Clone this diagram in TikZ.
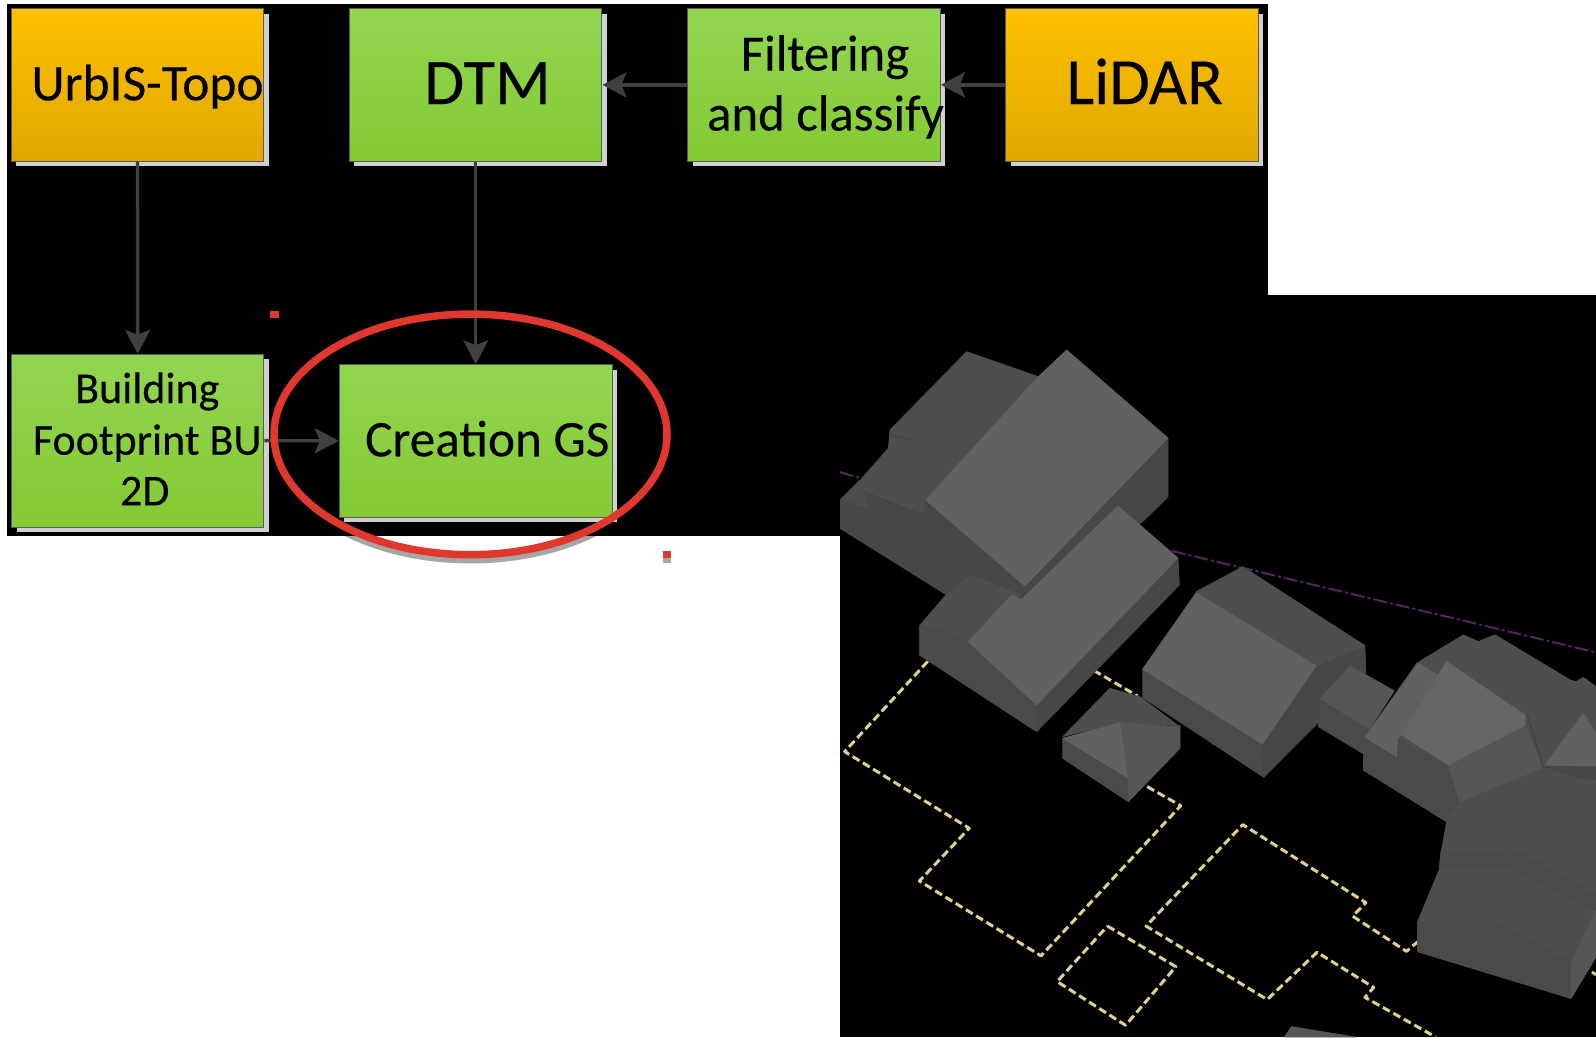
\documentclass[tikz,border=0pt]{standalone}
\usepackage{fontspec}
\setmainfont{Carlito}[FakeBold=0.25]
\usetikzlibrary{arrows.meta,shadows}
\definecolor{shgray}{HTML}{D0D0D0}
\definecolor{ringshadow}{HTML}{A6A6A6}
\definecolor{edgegray}{HTML}{5A5A5A}
\definecolor{arrowgray}{HTML}{404040}
\definecolor{ringred}{HTML}{E0382F}
\definecolor{roofL}{HTML}{616161}
\definecolor{roofLL}{HTML}{666666}
\definecolor{roofD}{HTML}{4E4E4E}
\definecolor{roofM}{HTML}{565656}
\definecolor{wallA}{HTML}{4A4A4A}
\definecolor{wallB}{HTML}{474747}
\definecolor{seam}{HTML}{424242}
\definecolor{dashyellow}{HTML}{E0D090}
\definecolor{dashpurple}{HTML}{532560}
\definecolor{orangetop}{HTML}{FFC000}
\definecolor{orangebot}{HTML}{E0A800}
\definecolor{greentop}{HTML}{92D550}
\definecolor{greenbot}{HTML}{84CA34}
\tikzset{
  x=1pt,y=-1pt,
  boxbase/.style={rectangle,inner sep=0pt,draw=edgegray,line width=1pt,
    drop shadow={shadow xshift=5pt,shadow yshift=-5pt,fill=shgray,opacity=1}},
  orangebox/.style={boxbase,top color=orangetop,bottom color=orangebot},
  greenbox/.style={boxbase,top color=greentop,bottom color=greenbot},
  flow/.style={draw=arrowgray,line width=3.4pt,-{Stealth[length=24pt,width=25pt,inset=5pt,fill=arrowgray]}},
  txt/.style={inner sep=0pt,anchor=base,text=black},
  fA/.style={font=\fontsize{51.5}{51.5}\selectfont},
  fB/.style={font=\fontsize{65}{65}\selectfont},
  fB2/.style={font=\fontsize{66}{66}\selectfont},
  fC/.style={font=\fontsize{50.8}{50.8}\selectfont},
  fD/.style={font=\fontsize{44}{44}\selectfont},
  fE/.style={font=\fontsize{51.3}{51.3}\selectfont},
  ringline/.style={line width=7.5pt},
  footprint/.style={draw=dashyellow,line width=3pt,dash pattern=on 8pt off 4pt},
  axisline/.style={draw=dashpurple,line width=2pt,dash pattern=on 14pt off 3pt on 3pt off 3pt},
  crop/.style={x=0.33333pt,y=-0.33333pt},
  scene/.style={line width=0.7pt,line join=round},
}
\begin{document}
\begin{tikzpicture}
\useasboundingbox (0,0) rectangle (1596,1037);
\fill[white] (0,0) rectangle (1596,1037);
\fill[black] (7,4) rectangle (1268,536);
\fill[black] (840,295) rectangle (1596,1037);

\begin{scope}[scene]
\clip (840,295) rectangle (1596,1037);
% lines and the partial roof
\begin{scope}[shift={(830,330)},x=0.4885pt,y=-0.4509pt]
\draw[axisline] (20,315) -- (70,331);
\draw[axisline] (700,490) -- (1568,715);
\draw[footprint] (200,735) -- (30,935) -- (285,1105) -- (183,1222) -- (432,1388) -- (718,1055) -- (645,1010);
\draw[footprint] (540,755) -- (630,812);
\draw[footprint] (568,1322) -- (708,1412) -- (605,1542) -- (465,1445) -- cycle;
\draw[footprint] (1205,1355) -- (1180,1378) -- (1070,1300) -- (1097,1270) -- (845,1097) -- (647,1322) -- (895,1485) -- (997,1380) -- (1113,1458) -- (1095,1480) -- (1240,1568);
\draw[footprint] (1540,1408) -- (1568,1430);
\filldraw[roofM] (930,1568) -- (945,1545) -- (1075,1568) -- cycle;
% building 3
\filldraw[wallA] (640,752) -- (885,918) -- (888,992) -- (640,815) -- cycle;
\filldraw[wallB] (995,745) -- (1095,700) -- (1097,760) -- (1000,870) -- (888,992) -- (885,918) -- cycle;
\filldraw[roofD] (750,580) -- (845,525) -- (1095,700) -- (995,745) -- cycle;
\filldraw[roofL] (750,582) -- (995,745) -- (885,918) -- (640,752) -- cycle;
% connector block
\filldraw[wallA] (1003,820) -- (1110,885) -- (1095,942) -- (1000,880) -- cycle;
\filldraw[roofM] (1003,818) -- (1065,745) -- (1155,800) -- (1105,885) -- cycle;
\end{scope}
% building 1
\begin{scope}[shift={(835,340)},crop]
\filldraw[wallB] (15,480) -- (15,565) -- (335,765) -- (560,790) -- (923,545) -- (999,471) -- (999,294) -- (570,738) -- (272,480) -- (262,525) -- (85,455) -- (95,500) -- cycle;
\filldraw[roofD] (15,480) -- (85,410) -- (160,325) -- (165,270) -- (395,35) -- (610,110) -- (272,480) -- (262,525) -- (85,455) -- (95,500) -- cycle;
\draw[seam,line width=1pt] (170,285) -- (230,300);
\draw[seam,line width=1pt] (85,455) -- (262,525);
\filldraw[roofL] (610,110) -- (695,30) -- (999,294) -- (570,738) -- (272,480) -- cycle;
\end{scope}
% building 2 and the small hip roof
\begin{scope}[shift={(910,560)},crop]
\filldraw[roofD] (30,195) -- (108,105) -- (185,45) -- (330,105) -- (175,245) -- (100,215) -- cycle;
\filldraw[wallA] (28,197) -- (28,285) -- (380,515) -- (380,435) -- (175,245) -- (100,215) -- cycle;
\filldraw[wallB] (380,435) -- (804,-6) -- (808,75) -- (380,515) -- cycle;
\filldraw[roofL] (175,245) -- (305,105) -- (335,118) -- (624,-162) -- (804,-6) -- (380,435) -- cycle;
\filldraw[wallA] (458,535) -- (458,595) -- (655,725) -- (655,655) -- cycle;
\filldraw[roofM] (655,655) -- (655,725) -- (810,565) -- (810,495) -- cycle;
\filldraw[roofD] (458,530) -- (600,385) -- (690,410) -- (805,497) -- (632,487) -- cycle;
\filldraw[roofL] (458,535) -- (632,487) -- (655,655) -- cycle;
\filldraw[roofM] (632,487) -- (805,500) -- (655,655) -- cycle;
\end{scope}
% right cluster
\begin{scope}[shift={(1340,620)},crop]
\filldraw[roofD] (230,130) -- (370,45) -- (415,65) -- (465,45) -- (690,180) -- (768,200) -- (768,500) -- (355,550) -- (320,605) -- (70,450) -- (72,355) -- cycle;
\filldraw[roofD] (230,130) -- (370,45) -- (415,65) -- (465,45) -- (690,180) -- (565,265) -- (555,290) -- (320,125) -- (290,165) -- cycle;
\filldraw[wallA] (72,355) -- (170,410) -- (172,355) -- (325,435) -- (360,550) -- (320,605) -- (70,450) -- cycle;
\filldraw[roofM] (325,435) -- (555,315) -- (610,445) -- (360,550) -- cycle;
\filldraw[roofL] (75,352) -- (235,130) -- (295,165) -- (185,345) -- (172,355) -- (170,410) -- cycle;
\filldraw[roofLL] (185,345) -- (320,125) -- (555,285) -- (555,315) -- (325,435) -- cycle;
\filldraw[roofD] (560,272) -- (730,172) -- (768,200) -- (768,335) -- (730,280) -- (612,437) -- cycle;
\filldraw[roofL] (615,435) -- (730,280) -- (768,340) -- (768,440) -- cycle;
\draw[seam,line width=1.2pt] (560,280) -- (610,445);
\filldraw[roofD] (320,605) -- (355,550) -- (610,445) -- (768,450) -- (768,768) -- (296,768) -- (305,690) -- cycle;
\filldraw[wallB] (612,440) -- (768,440) -- (768,490) -- cycle;
\end{scope}
\begin{scope}[shift={(1396,780)},crop]
\filldraw[roofD] (160,130) -- (190,70) -- (600,0) -- (600,530) -- (525,655) -- (65,515) -- (65,425) -- (130,268) -- (135,215) -- cycle;
\filldraw[wallA] (135,215) -- (360,208) -- (600,345) -- (600,392) -- (360,270) -- (130,270) -- cycle;
\filldraw[wallA] (65,425) -- (295,420) -- (525,548) -- (525,655) -- (65,515) -- cycle;
\filldraw[roofM] (525,548) -- (600,392) -- (600,530) -- (525,655) -- cycle;
\end{scope}
\end{scope}

% boxes
\node[orangebox,minimum width=252.5pt,minimum height=152.3pt] (urbis) at (137.5,84.85) {};
\node[greenbox,minimum width=252.5pt,minimum height=152.3pt] (dtm) at (475.7,84.85) {};
\node[greenbox,minimum width=252.5pt,minimum height=152.3pt] (filter) at (814.1,84.85) {};
\node[orangebox,minimum width=252.5pt,minimum height=152.3pt] (lidar) at (1132,84.85) {};
\node[greenbox,minimum width=252.2pt,minimum height=172.7pt] (footprintbox) at (137.7,440.65) {};
\node[greenbox,minimum width=272.7pt,minimum height=152.3pt] (creation) at (475.7,440.85) {};

% connectors
\draw[flow] (urbis.south) -- (footprintbox.north);
\draw[flow] (dtm.south) -- (creation.north);
\draw[flow] (filter.west) -- (dtm.east);
\draw[flow] (lidar.west) -- (filter.east);
\draw[flow] (footprintbox.east) -- (creation.west);

% labels
\node[txt,fA] (t1) at (147.6,100.3) {UrbIS-Topo};
\node[txt,fB] (t2) at (487.5,104) {DTM};
\node[txt,fC] (t3) at (825,70.5) {Filtering};
\node[txt,fC] (t4) at (825.5,130.5) {and classify};
\node[txt,fB2] (t5) at (1144.7,104) {LiDAR};
\node[txt,fD] (t6) at (147.3,403) {Building};
\node[txt,fD] (t7) at (147.3,454.7) {Footprint BU};
\node[txt,fD] (t8) at (144.7,505.3) {2D};
\node[txt,fE] (t9) at (487.3,456.3) {Creation GS};

% ring and its leftovers
\begin{scope}
\clip (0,536) rectangle (1596,600);
\draw[ringline,draw=ringshadow] (470.5,439.4) ellipse [x radius=196.5,y radius=120.3];
\end{scope}
\draw[ringline,draw=ringred] (470.5,434.4) ellipse [x radius=196.5,y radius=120.3];
\fill[ringred] (269.6,310.7) rectangle (278.6,318.3);
\fill[ringshadow] (662.5,558) rectangle (671.4,563);
\fill[ringred] (662.5,550.7) rectangle (671.4,558.3);
\end{tikzpicture}
\end{document}
